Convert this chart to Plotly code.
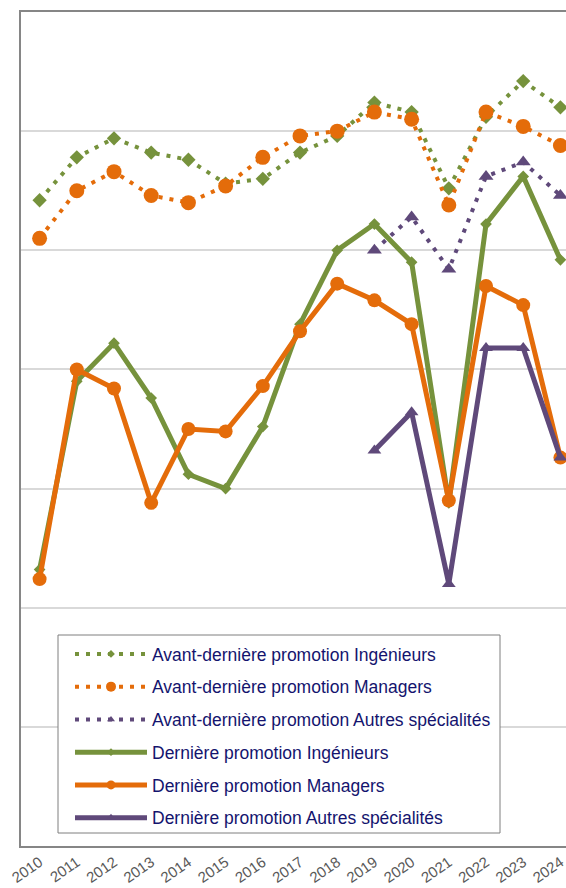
import plotly.graph_objects as go

years = [2010, 2011, 2012, 2013, 2014, 2015, 2016, 2017, 2018, 2019, 2020, 2021, 2022, 2023, 2024]
years_autres = [2019, 2020, 2021, 2022, 2023, 2024]
tick_labels = [str(y) for y in years]

avant_ing = [92.1, 93.9, 94.7, 94.1, 93.8, 92.8, 93.0, 94.1, 94.8, 96.2, 95.8, 92.6, 95.6, 97.1, 96.0]
avant_mgr = [90.5, 92.5, 93.3, 92.3, 92.0, 92.7, 93.9, 94.8, 95.0, 95.8, 95.5, 91.9, 95.8, 95.2, 94.4]
avant_autres = [90.0, 91.4, 89.2, 93.1, 93.7, 92.3]
dern_ing = [76.6, 84.5, 86.1, 83.8, 80.6, 80.0, 82.6, 86.9, 90.0, 91.1, 89.5, 79.4, 91.1, 93.1, 89.6]
dern_mgr = [76.2, 85.0, 84.2, 79.4, 82.5, 82.4, 84.3, 86.6, 88.6, 87.9, 86.9, 79.5, 88.5, 87.7, 81.3]
dern_autres = [81.6, 83.2, 76.0, 85.9, 85.9, 81.3]

GREEN = "#76923C"
ORANGE = "#E46C0A"
PURPLE = "#5F497A"
DOT = "4px,7px"

fig = go.Figure()

series = [
    ("Avant-dernière promotion Ingénieurs", years, avant_ing, GREEN, DOT, 4, "diamond", 11, 6),
    ("Avant-dernière promotion Managers", years, avant_mgr, ORANGE, DOT, 4, "circle", 15, 10),
    ("Avant-dernière promotion Autres spécialités", years_autres, avant_autres, PURPLE, DOT, 4, "triangle-up", 13, 7),
    ("Dernière promotion Ingénieurs", years, dern_ing, GREEN, "solid", 5, "diamond", 9, 6),
    ("Dernière promotion Managers", years, dern_mgr, ORANGE, "solid", 5, "circle", 14, 9),
    ("Dernière promotion Autres spécialités", years_autres, dern_autres, PURPLE, "solid", 5, "triangle-up", 12, 8),
]

for i, (name, xs, ys, col, dash, w, sym, sz, lsz) in enumerate(series):
    fig.add_trace(go.Scatter(
        x=xs, y=ys, name=name, mode="lines+markers", showlegend=False,
        line=dict(color=col, width=w, dash=dash),
        marker=dict(color=col, symbol=sym, size=sz, line=dict(width=0)),
    ))

# legend entries (smaller symbols, as in the reference legend)
for i, (name, xs, ys, col, dash, w, sym, sz, lsz) in enumerate(series):
    fig.add_trace(go.Scatter(
        x=[None], y=[None], name=name, mode="lines+markers",
        legendgroup="g%d" % i, showlegend=True,
        line=dict(color=col, width=w, dash=dash),
        marker=dict(color=col, symbol=sym, size=lsz, line=dict(width=0)),
    ))

# legend frame
fig.add_shape(
    type="rect", xref="paper", yref="paper",
    x0=(58 - 21) / 545, x1=(500 - 21) / 545,
    y0=(846 - 833) / 834, y1=(846 - 635) / 834,
    fillcolor="white", line=dict(color="#7F7F7F", width=1), layer="above",
)

fig.update_layout(
    width=566, height=888,
    margin=dict(l=21, r=0, t=12, b=42),
    paper_bgcolor="white", plot_bgcolor="white",
    font=dict(family="Liberation Sans, Arial, sans-serif"),
    showlegend=True,
    legend=dict(
        x=(70 - 21) / 545, y=(846 - 636) / 834, xanchor="left", yanchor="top",
        bgcolor="rgba(0,0,0,0)", borderwidth=0,
        font=dict(size=17.5, color="#14146E"),
        tracegroupgap=7, itemwidth=72,
    ),
    xaxis=dict(
        range=[2009.5, 2024.15],
        tickmode="array", tickvals=years, ticktext=tick_labels,
        tickangle=-35, tickfont=dict(size=15, color="#595959"),
        ticklabeloverflow="allow",
        showgrid=False, zeroline=False,
        showline=True, linecolor="#868686", linewidth=1.5, mirror=True,
        ticks="", automargin=False,
    ),
    yaxis=dict(
        range=[65, 100], dtick=5, tick0=65,
        showticklabels=False, showgrid=True, gridcolor="#D9D9D9", gridwidth=1.5,
        zeroline=False, showline=True, linecolor="#868686", linewidth=1.5,
        ticks="", automargin=False,
    ),
)

fig.write_html(
    "out.html",
    config={"displayModeBar": False},
    post_script="document.body.style.margin='0';document.body.style.overflow='hidden';",
)
